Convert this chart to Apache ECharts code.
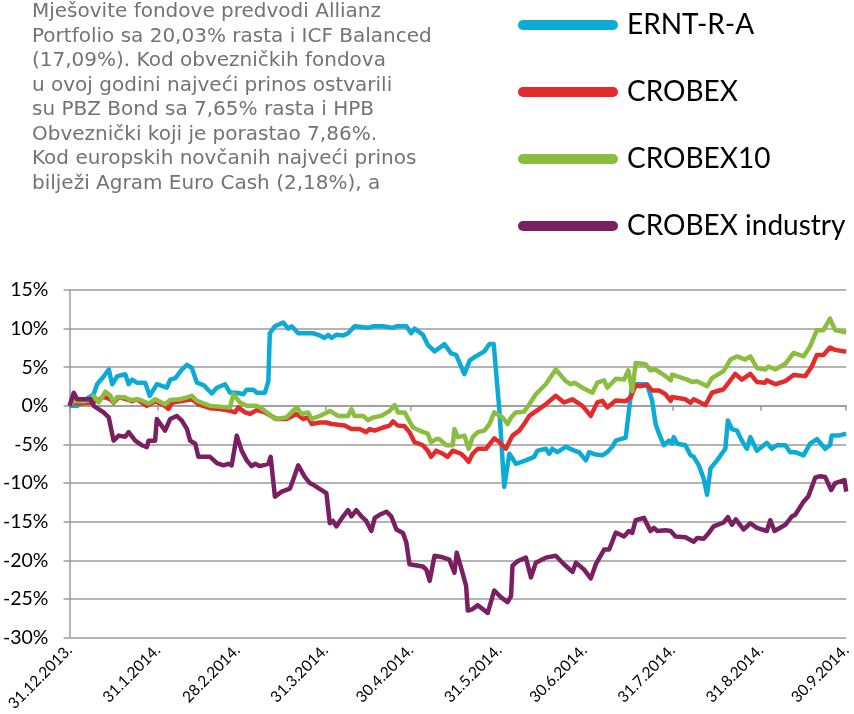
<!DOCTYPE html>
<html lang="hr">
<head>
<meta charset="UTF-8">
<title>ERNT-R-A i CROBEX indeksi</title>
<style type="text/css">
  html, body, #main {
    padding: 0;
    margin: 0;
    overflow: hidden;
    background-color: #fff;
    width: 854px;
    height: 714px;
  }
</style>
</head>
<body>
<div id="main"></div>
<script type="text/javascript" src="https://cdn.jsdelivr.net/npm/echarts@6/dist/echarts.min.js"></script>
<script type="text/javascript">
// days since 31.12.2013 -> month-end ticks
const tickDays = [0, 31, 59, 90, 120, 151, 181, 212, 243, 273];
const tickLabels = ['31.12.2013.', '31.1.2014.', '28.2.2014.', '31.3.2014.', '30.4.2014.',
  '31.5.2014.', '30.6.2014.', '31.7.2014.', '31.8.2014.', '30.9.2014.'];
const seriesNames = ['ERNT-R-A', 'CROBEX', 'CROBEX10', 'CROBEX industry'];
const seriesColors = ['#0babd6', '#e32b2b', '#8bbd3f', '#7a2062'];

const introText = [
  'Mješovite fondove predvodi Allianz',
  'Portfolio sa 20,03% rasta i ICF Balanced',
  '(17,09%). Kod obvezničkih fondova',
  'u ovoj godini najveći prinos ostvarili',
  'su PBZ Bond sa 7,65% rasta i HPB',
  'Obveznički koji je porastao 7,86%.',
  'Kod europskih novčanih najveći prinos',
  'bilježi Agram Euro Cash (2,18%), a'
];

// [day, % change]
const ernData = [
  [0, 0], [2.7, 0], [6.8, 1.1], [8.5, 1.5], [9.7, 2.8], [12.0, 3.8], [13.8, 4.7], [15.0, 2.8],
  [16.7, 3.8], [19.6, 4.1], [20.8, 2.8], [22.0, 3.4], [23.7, 3.0], [26.6, 3.0], [28.2, 1.3],
  [30.7, 2.8], [34.2, 2.35], [35.4, 3.4], [37.2, 3.6], [39.5, 4.7], [41.3, 5.3], [43.0, 4.9],
  [44.8, 3.0], [47.1, 2.7], [50.0, 1.6], [51.8, 2.35], [54.7, 2.8], [56.4, 1.7], [58.8, 1.7],
  [61.1, 1.5], [62.3, 2.1], [64.6, 2.1], [65.8, 1.7], [68.7, 1.7], [69.9, 3.2], [70.4, 9.4],
  [72.2, 10.3], [74.0, 10.6], [75.1, 10.8], [76.9, 10.0], [78.1, 10.3], [80.4, 9.4], [85.6, 9.4],
  [87.4, 9.2], [89.7, 8.8], [90.9, 9.2], [92.1, 8.8], [93.8, 9.2], [96.2, 9.1], [97.9, 9.4],
  [100.2, 10.3], [102.6, 10.2], [104.9, 10.1], [106.7, 10.3], [110.2, 10.3], [113.7, 10.1],
  [114.9, 10.3], [118.4, 10.3], [120.1, 9.4], [121.3, 10.0], [124.2, 9.2], [125.9, 7.9],
  [128.3, 7.05], [130.0, 7.5], [131.8, 8.0], [134.1, 6.8], [135.9, 6.6], [138.8, 4.1],
  [140.6, 5.85], [142.3, 6.3], [145.8, 7.05], [147.6, 8.0], [149.1, 8.0], [151.1, -0.6],
  [152.8, -10.5], [154.6, -6.2], [156.9, -7.5], [160.4, -7.05], [163.3, -6.6], [164.5, -5.8],
  [167.4, -5.55], [168.6, -6.2], [169.7, -5.55], [171.5, -6.0], [174.4, -5.3], [177.4, -5.8],
  [179.1, -6.0], [181.5, -7.05], [182.6, -6.0], [185.0, -6.3], [187.3, -6.4], [189.0, -6.0],
  [190.8, -5.3], [192.0, -4.5], [195.5, -4.1], [197.2, 1.1], [197.8, 2.8], [201.3, 2.8],
  [203.0, 2.8], [204.8, 0.65], [206.0, -2.35], [207.2, -3.6], [208.9, -5.1], [210.7, -4.5],
  [211.8, -4.9], [212.4, -4.05], [213.6, -4.9], [216.5, -5.1], [218.3, -6.4], [219.4, -6.6],
  [221.2, -7.7], [222.9, -9.4], [224.1, -11.5], [225.3, -8.1], [227.6, -7.05], [230.5, -5.55],
  [231.4, -1.9], [232.8, -3.0], [234.6, -3.2], [236.3, -4.5], [238.1, -5.55], [239.3, -4.05],
  [241.6, -5.8], [244.0, -5.1], [245.1, -4.8], [246.9, -5.55], [248.6, -5.1], [251.6, -5.1],
  [253.3, -6.0], [255.1, -6.0], [258.0, -6.4], [260.3, -4.9], [262.7, -4.3], [265.6, -5.55],
  [267.3, -5.1], [267.9, -3.85], [270.3, -3.85], [273, -3.6]
];

const crobexData = [
  [0, 0], [1.5, 0.4], [3.9, 0.35], [7.4, 0.4], [9.1, 0.6], [12.0, 1.15], [14.4, 0.85], [15.5, 0.4],
  [17.3, 1.1], [20.2, 0.85], [22.0, 0.6], [23.7, 0.85], [27.2, 0], [30.1, 0.6], [33.1, 0.1],
  [34.8, -0.4], [36.0, 0.4], [38.9, 0.6], [43.0, 0.85], [45.3, 0.2], [49.4, -0.3], [52.9, -0.4],
  [56.4, -0.65], [58.2, -0.85], [59.3, -0.2], [61.7, -0.85], [63.4, -1.05], [65.8, -0.55],
  [68.7, -0.85], [72.8, -1.7], [76.3, -1.7], [79.8, -1.05], [82.1, -1.7], [83.9, -1.5],
  [85.1, -2.35], [88.0, -2.15], [90.3, -2.15], [92.1, -2.35], [96.7, -2.55], [99.1, -3.0],
  [102.0, -3.0], [104.3, -3.4], [105.5, -3.0], [107.3, -3.2], [110.2, -2.8], [112.5, -2.55],
  [113.7, -2.0], [115.4, -2.55], [117.8, -2.65], [119.5, -3.4], [121.3, -4.7], [124.2, -5.1],
  [125.9, -5.8], [127.1, -6.6], [128.9, -5.8], [131.2, -6.2], [132.9, -6.6], [134.7, -5.8],
  [137.6, -6.2], [138.8, -6.6], [140.3, -7.25], [141.7, -6.2], [143.5, -5.55], [146.4, -5.55],
  [149.3, -4.2], [151.1, -4.7], [153.4, -5.55], [155.7, -3.85], [158.1, -3.2], [159.8, -2.35],
  [161.6, -1.3], [165.1, -0.4], [167.4, 0.2], [170.9, 1.3], [173.8, 0.45], [176.8, 0.85],
  [180.3, 0], [183.2, -1.3], [185.5, 0.45], [187.3, 0.65], [189.0, -0.2], [192.0, 0.7],
  [195.5, 0.6], [197.2, 1.1], [199.0, 2.65], [200.2, 2.55], [203.1, 2.7], [204.8, 2.0],
  [207.2, 2.0], [209.5, 1.5], [211.3, 0.65], [211.8, 1.15], [216.5, 0.85], [218.3, 0.4],
  [219.4, 0.85], [223.5, 0.1], [225.8, 1.7], [229.9, 2.15], [234.0, 4.15], [236.3, 3.4],
  [239.3, 4.15], [241.6, 3.1], [244.5, 3.0], [245.1, 3.3], [248.1, 2.8], [251.6, 3.2],
  [254.5, 4.0], [258.6, 3.85], [260.9, 5.1], [262.7, 6.6], [265.0, 6.6], [267.3, 7.55],
  [269.1, 7.25], [273, 7.0]
];

const crobex10Data = [
  [0, 0], [1.5, 0.65], [5.0, 0.55], [8.0, 0.85], [8.5, 1.3], [10.3, 0.45], [12.6, 1.85],
  [14.4, 1.3], [15.5, 0.45], [16.7, 1.1], [19.6, 1.1], [21.4, 0.75], [24.3, 0.85], [27.8, 0.3],
  [30.1, 0.85], [33.6, 0.2], [35.4, 0.75], [38.9, 0.85], [43.0, 1.3], [44.8, 0.65], [49.4, 0],
  [54.1, -0.15], [56.4, -0.2], [57.6, 1.5], [59.9, 0.45], [62.3, 0], [65.8, 0], [66.9, -0.2],
  [68.7, -0.65], [72.2, -1.7], [76.3, -1.5], [79.8, -0.2], [81.6, -1.05], [83.9, -0.85],
  [85.1, -1.7], [88.0, -1.3], [91.5, -0.65], [94.4, -1.3], [97.9, -1.3], [99.1, -0.45],
  [100.2, -1.3], [103.2, -1.3], [104.9, -1.85], [106.7, -1.5], [109.6, -1.3], [112.5, -0.65],
  [114.3, 0.1], [115.4, -0.85], [117.8, -0.85], [120.7, -2.8], [123.0, -3.2], [125.9, -3.6],
  [127.1, -4.7], [128.9, -4.3], [130.0, -4.3], [132.4, -5.1], [134.7, -5.1], [135.3, -3.0],
  [136.5, -4.05], [138.8, -3.85], [140.3, -5.55], [141.7, -4.05], [143.5, -3.4], [145.8, -3.2],
  [147.6, -2.35], [149.3, -0.85], [152.2, -1.5], [154.0, -2.35], [155.2, -1.5], [156.9, -0.85],
  [159.8, -0.75], [161.6, 0.2], [163.9, 1.5], [167.4, 2.8], [170.9, 4.7], [174.4, 3.2],
  [176.2, 2.8], [177.4, 3.0], [180.3, 2.35], [183.8, 1.7], [185.5, 3.0], [187.9, 3.3],
  [189.0, 2.35], [192.0, 3.5], [194.9, 3.4], [196.4, 4.6], [197.8, 1.9], [199.0, 5.55],
  [202.5, 5.4], [204.2, 4.6], [206.0, 4.7], [209.5, 3.85], [211.3, 3.3], [211.8, 4.05],
  [217.1, 3.4], [218.8, 3.1], [220.6, 3.2], [224.1, 2.55], [225.8, 3.6], [229.9, 4.5],
  [232.3, 6.0], [234.6, 6.4], [237.5, 6.0], [239.3, 6.4], [241.6, 4.9], [244.5, 4.7],
  [245.7, 5.1], [248.1, 4.7], [251.6, 5.45], [254.5, 6.85], [258.0, 6.4], [260.3, 7.7],
  [262.7, 9.8], [265.0, 9.8], [267.3, 11.3], [269.1, 9.8], [273, 9.5]
];

const industryData = [
  [0, 0], [1.5, 1.7], [2.7, 0.85], [7.4, 0.85], [8.5, 0], [12.0, -0.85], [13.8, -1.5],
  [15.5, -4.5], [17.3, -3.85], [19.6, -4.0], [20.8, -3.4], [23.1, -4.5], [25.5, -5.1],
  [27.2, -5.35], [27.8, -4.5], [30.1, -4.5], [30.7, -1.7], [33.6, -3.2], [35.4, -1.7],
  [37.7, -1.3], [39.5, -1.9], [41.3, -3.0], [42.4, -4.5], [44.2, -4.9], [45.3, -6.6],
  [49.4, -6.6], [51.8, -7.4], [54.1, -7.7], [55.8, -7.5], [57.0, -7.7], [58.8, -3.85],
  [60.5, -5.8], [62.3, -7.05], [64.0, -7.8], [65.2, -7.5], [66.9, -7.8], [69.9, -7.5],
  [70.7, -6.6], [72.2, -11.75], [74.6, -11.1], [77.5, -10.7], [78.6, -9.6], [80.4, -7.7],
  [82.7, -9.2], [84.5, -10.0], [85.6, -10.2], [88.6, -10.9], [90.3, -11.3], [91.5, -15.2],
  [92.6, -14.9], [93.8, -15.6], [96.2, -14.3], [97.9, -13.5], [99.1, -14.3], [100.8, -13.5],
  [102.6, -14.3], [104.3, -14.9], [106.1, -16.2], [107.3, -14.5], [109.0, -14.1], [111.4, -13.7],
  [113.1, -14.3], [114.9, -16.0], [117.2, -16.45], [118.4, -17.7], [119.5, -20.5], [124.2, -20.8],
  [125.4, -21.2], [126.6, -22.65], [128.3, -19.4], [131.2, -19.6], [133.5, -19.9], [135.3, -21.6],
  [136.1, -19.0], [137.6, -20.9], [139.4, -23.3], [140.0, -26.5], [141.7, -26.3], [143.5, -25.8],
  [147.0, -26.8], [149.3, -23.9], [151.7, -24.8], [154.0, -25.4], [155.2, -24.6], [155.7, -20.7],
  [157.5, -20.1], [160.4, -19.65], [162.2, -22.2], [163.9, -20.3], [167.4, -19.65], [170.9, -19.4],
  [173.8, -20.5], [176.8, -21.5], [178.0, -20.3], [180.9, -21.2], [183.2, -22.35], [185.0, -20.5],
  [187.9, -18.6], [189.7, -18.6], [192.0, -16.4], [194.9, -16.9], [196.6, -16.2], [197.8, -16.45],
  [199.0, -14.8], [201.9, -14.5], [204.2, -16.2], [205.4, -15.8], [206.6, -16.2], [209.5, -16.1],
  [211.3, -16.2], [213.0, -16.9], [216.5, -17.0], [219.4, -17.6], [220.6, -17.1], [222.9, -17.2],
  [224.7, -16.45], [226.4, -15.6], [229.9, -15.1], [231.4, -14.4], [232.8, -15.4], [234.2, -14.7],
  [236.9, -16.0], [239.3, -15.2], [241.6, -15.8], [245.1, -16.2], [246.3, -14.8], [247.8, -16.2],
  [251.6, -15.4], [253.9, -14.3], [255.1, -14.1], [258.0, -12.4], [259.7, -11.7], [262.1, -9.3],
  [263.8, -9.1], [265.6, -9.2], [267.7, -10.9], [269.1, -10.0], [272.4, -9.6], [273, -11.1]
];

const seriesData = [ernData, crobexData, crobex10Data, industryData];

let uiChart = echarts.init(document.getElementById('main'), null, { renderer: 'canvas' });

function buildSeries () {
  return seriesNames.map(function (name, i) {
    return {
      name: name,
      type: 'line',
      data: seriesData[i],
      showSymbol: false,
      symbol: 'none',
      color: seriesColors[i],
      lineStyle: { width: 4.5, color: seriesColors[i], join: 'round' },
      animation: false
    };
  });
}

const gridColor = '#9b9b9b';

uiChart.setOption({
  backgroundColor: '#fff',
  animation: false,
  textStyle: { fontFamily: 'Lato' },
  graphic: [{
    type: 'text',
    left: 32,
    top: 0,
    style: {
      text: introText.join('\n'),
      font: '20px "DejaVu Sans"',
      lineHeight: 24.5,
      fill: '#737373'
    }
  }],
  legend: {
    orient: 'vertical',
    left: 513,
    top: 5,
    itemWidth: 100,
    itemHeight: 10,
    itemGap: 37,
    icon: 'path://M5 0H95A5 5 0 0 1 95 10H5A5 5 0 0 1 5 0Z',
    selectedMode: false,
    textStyle: {
      fontFamily: 'Lato',
      fontSize: 28,
      lineHeight: 30,
      color: '#000',
      padding: [0, 0, 0, 4]
    }
  },
  grid: { left: 69, right: 6, top: 290, bottom: 73, containLabel: false },
  xAxis: {
    type: 'value',
    min: 0,
    max: 273,
    axisLine: { show: true, lineStyle: { color: gridColor, width: 1.5 } },
    axisTick: { show: true, length: 5, customValues: tickDays, lineStyle: { color: gridColor, width: 1.5 } },
    splitLine: { show: false },
    axisLabel: {
      customValues: tickDays,
      rotate: 45,
      margin: 10,
      fontSize: 15.5,
      color: '#000',
      formatter: function (v) {
        const idx = tickDays.indexOf(Math.round(v));
        return idx >= 0 ? tickLabels[idx] : '';
      }
    }
  },
  yAxis: {
    type: 'value',
    min: -30,
    max: 15,
    interval: 5,
    axisLine: { show: true, lineStyle: { color: gridColor, width: 1.5 } },
    axisTick: { show: true, length: 6, lineStyle: { color: gridColor, width: 1.5 } },
    splitLine: { show: true, lineStyle: { color: gridColor, width: 1.5 } },
    axisLabel: {
      fontSize: 19.5,
      color: '#000',
      margin: 21,
      formatter: '{value}%'
    }
  },
  series: buildSeries()
});
</script>
</body>
</html>
